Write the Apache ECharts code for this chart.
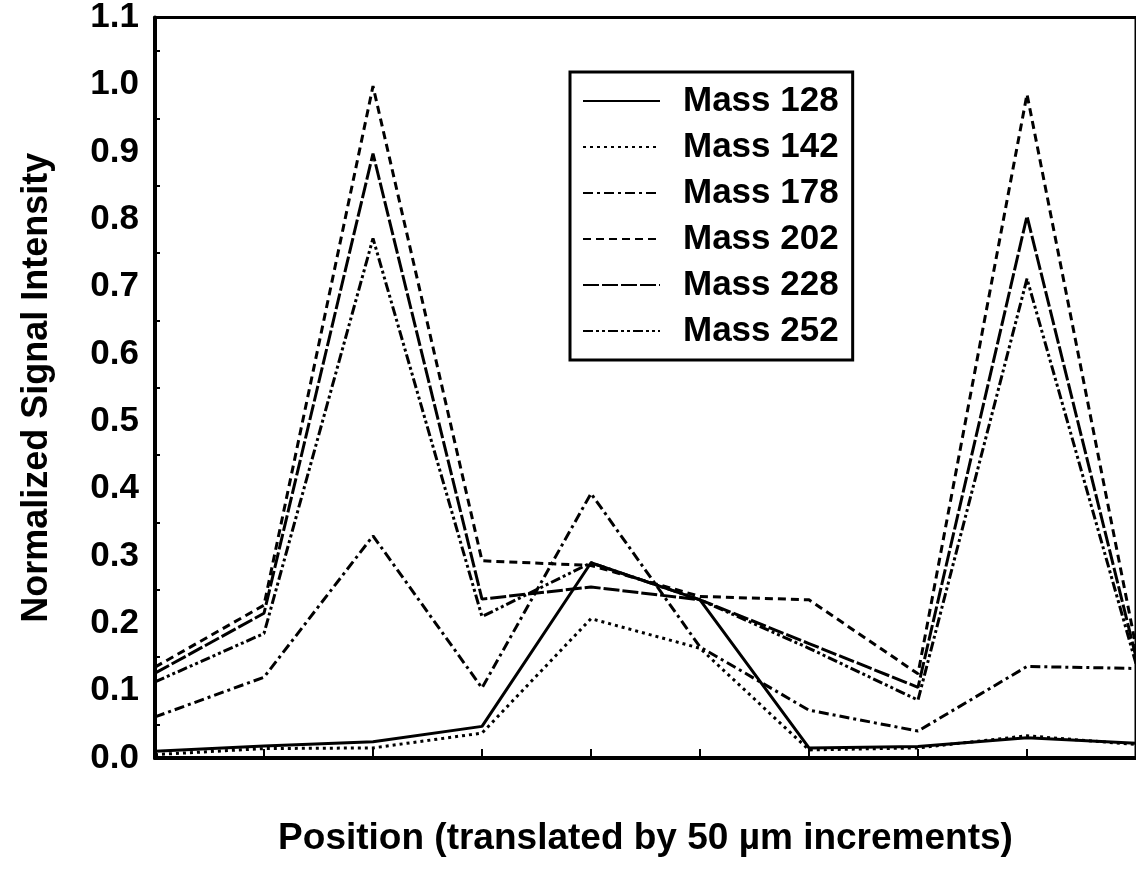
<!DOCTYPE html>
<html>
<head>
<meta charset="utf-8">
<script src="https://cdn.jsdelivr.net/npm/echarts@6/dist/echarts.min.js"></script>
<style>
html,body{margin:0;padding:0;background:#fff;}
#chart{width:1136px;height:880px;}
</style>
</head>
<body>
<div id="chart"></div>
<script>
// ---- data ----
const positions = ['0','1','2','3','4','5','6','7','8','9'];
const yTicks = [0.0,0.1,0.2,0.3,0.4,0.5,0.6,0.7,0.8,0.9,1.0,1.1];
const mass128 = [0.010, 0.018, 0.024, 0.047, 0.290, 0.235, 0.015, 0.017, 0.030, 0.022];
const mass142 = [0.005, 0.014, 0.015, 0.037, 0.207, 0.163, 0.012, 0.015, 0.033, 0.020];
const mass178 = [0.061, 0.120, 0.330, 0.104, 0.393, 0.165, 0.071, 0.040, 0.136, 0.133];
const mass202 = [0.135, 0.227, 0.998, 0.293, 0.286, 0.240, 0.235, 0.125, 0.986, 0.165];
const mass228 = [0.126, 0.215, 0.898, 0.236, 0.254, 0.235, 0.170, 0.105, 0.805, 0.150];
const mass252 = [0.113, 0.185, 0.772, 0.210, 0.290, 0.235, 0.163, 0.086, 0.712, 0.140];
const seriesNames = ['Mass 128','Mass 142','Mass 178','Mass 202','Mass 228','Mass 252'];
const seriesData = [mass128, mass142, mass178, mass202, mass228, mass252];
const dashTypes = ['solid', [3,4], [10,4,3,4], [8,5], [16,3], [10,3,3,3,3,3]];

const FONT = '"Liberation Sans", Arial, sans-serif';
const chart = echarts.init(document.getElementById('chart'));

const series = seriesNames.map((n,i)=>({
  name: n,
  type: 'line',
  data: seriesData[i],
  symbol: 'none',
  animation: false,
  lineStyle: {color:'#000', width: 3, type: dashTypes[i]},
  itemStyle: {color:'#000'}
}));

chart.setOption({
  backgroundColor: '#fff',
  animation: false,
  grid: {left: 155, right: -7, top: 17, bottom: 122, show: true, borderColor: '#000', borderWidth: 3},
  legend: {
    orient: 'vertical',
    left: 570, top: 72,
    data: seriesNames,
    itemWidth: 77, itemHeight: 14, itemGap: 10,
    padding: [11, 14, 11, 12],
    borderColor: '#000', borderWidth: 3,
    backgroundColor: '#fff',
    itemStyle: {opacity: 0},
    textStyle: {fontFamily: FONT, fontWeight: 'bold', fontSize: 35, color: '#000', lineHeight: 36, padding: [0,0,0,18]}
  },
  xAxis: {
    type: 'category',
    data: positions,
    boundaryGap: false,
    name: 'Position (translated by 50 \u00b5m increments)',
    nameLocation: 'middle',
    nameGap: 62,
    nameTextStyle: {fontFamily: FONT, fontWeight: 'bold', fontSize: 37, color: '#000'},
    axisLine: {lineStyle: {color: '#000', width: 4}},
    axisTick: {inside: true, length: 9, lineStyle: {color: '#000', width: 2}},
    axisLabel: {show: false},
    splitLine: {show: false}
  },
  yAxis: [{
    type: 'value',
    min: 0, max: 1.1, interval: 0.1,
    name: 'Normalized Signal Intensity',
    nameLocation: 'middle',
    nameGap: 100,
    nameTextStyle: {fontFamily: FONT, fontWeight: 'bold', fontSize: 36, color: '#000'},
    axisLine: {show: true, lineStyle: {color: '#000', width: 4}},
    axisTick: {inside: true, length: 10, lineStyle: {color: '#000', width: 3}},
    minorTick: {show: true, splitNumber: 2, length: 5, lineStyle: {color: '#000', width: 2}},
    axisLabel: {fontFamily: FONT, fontWeight: 'bold', fontSize: 35, color: '#000', margin: 16,
      formatter: v => { const t = yTicks.find(x => Math.abs(x - v) < 1e-6); return (t === undefined ? v : t).toFixed(1); }},
    splitLine: {show: false}
  },{
    type: 'value',
    position: 'right',
    min: 0, max: 1.1, interval: 0.1,
    axisLine: {show: true, lineStyle: {color: '#000', width: 3}},
    axisTick: {inside: true, length: 12, lineStyle: {color: '#000', width: 3}},
    axisLabel: {show: false},
    splitLine: {show: false}
  }],
  series: series
});
</script>
</body>
</html>
